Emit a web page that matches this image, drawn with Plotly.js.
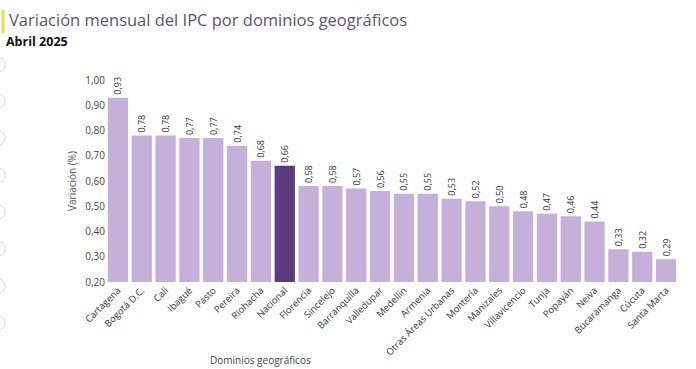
<!DOCTYPE html>
<html>
<head>
<meta charset="utf-8">
<script src="https://cdn.plot.ly/plotly-3.0.1.min.js"></script>
<style>html,body{margin:0;padding:0;background:#fff;}#chart{width:696px;height:369px;}</style>
</head>
<body>
<div id="chart"></div>
<script>
const categories = ["Cartagena","Bogotá D.C.","Cali","Ibagué","Pasto","Pereira","Riohacha","Nacional","Florencia","Sincelejo","Barranquilla","Valledupar","Medellín","Armenia","Otras Áreas Urbanas","Montería","Manizales","Villavicencio","Tunja","Popayán","Neiva","Bucaramanga","Cúcuta","Santa Marta"];
const values = [0.93,0.78,0.78,0.77,0.77,0.74,0.68,0.66,0.58,0.58,0.57,0.56,0.55,0.55,0.53,0.52,0.50,0.48,0.47,0.46,0.44,0.33,0.32,0.29];
const highlight = "Nacional";
const yTicks = [0.2,0.3,0.4,0.5,0.6,0.7,0.8,0.9,1.0];

const fmt = v => v.toFixed(2).replace('.', ',');
const colors = categories.map(c => c === highlight ? '#5b3b7c' : '#c4b0d8');

const trace = {
  type: 'bar',
  x: categories,
  y: values,
  marker: {color: colors},
  text: values.map(fmt),
  textposition: 'outside',
  textangle: -90,
  cliponaxis: false,
  textfont: {family: 'Open Sans, sans-serif', size: 9, color: '#333'},
  hoverinfo: 'none'
};

const W = 578, H = 202, L = 106, T = 80;
const px = x => (x - L) / W;
const py = y => 1 + (T - y) / H;

const circles = [65, 101, 138, 175, 212, 249, 286, 323].map(cy => ({
  type: 'circle', xref: 'paper', yref: 'paper', layer: 'above',
  x0: px(-8), x1: px(4), y0: py(cy - 7), y1: py(cy + 7),
  line: {color: '#d8d8d8', width: 1}
}));

const layout = {
  width: 696, height: 369,
  margin: {l: L, r: 18, t: T, b: 87},
  paper_bgcolor: '#fff', plot_bgcolor: '#fff',
  bargap: 0.15,
  showlegend: false,
  font: {family: 'Open Sans, sans-serif', color: '#444'},
  xaxis: {
    tickangle: -45,
    tickfont: {size: 9.5, color: '#333'},
    showgrid: false, zeroline: false, showline: false, ticks: ''
  },
  yaxis: {
    range: [0.2, 1.0],
    tickvals: yTicks,
    ticktext: yTicks.map(fmt),
    tickfont: {size: 10, color: '#444'},
    showgrid: false, zeroline: false, showline: false, ticks: '',
    title: {text: 'Variación (%)', font: {size: 10, color: '#555'}, standoff: 6}
  },
  annotations: [
    {text: 'Variación mensual del IPC por dominios geográficos', xref: 'paper', yref: 'paper', x: px(6), y: py(20), xanchor: 'left', yanchor: 'middle', showarrow: false, font: {size: 16.5, color: '#5c5470', family: 'Open Sans, sans-serif'}},
    {text: '<b>Abril 2025</b>', xref: 'paper', yref: 'paper', x: px(3), y: py(41), xanchor: 'left', yanchor: 'middle', showarrow: false, font: {size: 12.5, color: '#111', family: 'Open Sans, sans-serif'}},
    {text: 'Dominios geográficos', xref: 'paper', yref: 'paper', x: px(262), y: py(360), xanchor: 'center', yanchor: 'middle', showarrow: false, font: {size: 10, color: '#444', family: 'Open Sans, sans-serif'}}
  ],
  shapes: [
    {type: 'line', xref: 'paper', yref: 'paper', x0: px(2), x1: px(2), y0: py(10), y1: py(33), line: {color: '#f2d94e', width: 3}}
  ].concat(circles)
};

Plotly.newPlot('chart', [trace], layout, {displayModeBar: false, staticPlot: true});
</script>
</body>
</html>
